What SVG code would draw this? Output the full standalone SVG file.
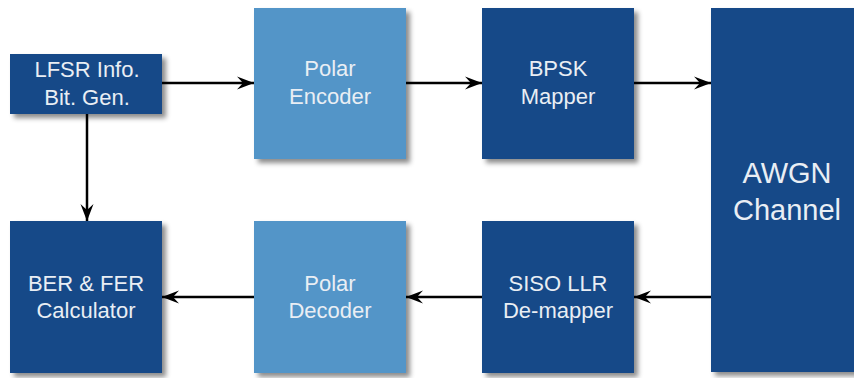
<svg xmlns="http://www.w3.org/2000/svg" width="854" height="378" viewBox="0 0 854 378">
<defs>
<filter id="sh" x="-20%" y="-20%" width="150%" height="150%">
<feDropShadow dx="4" dy="4" stdDeviation="2.5" flood-color="#000" flood-opacity="0.45"/>
</filter>
<marker id="ah" markerUnits="userSpaceOnUse" markerWidth="18" markerHeight="16" refX="17" refY="8" orient="auto">
<path d="M0,1.5 L17,8 L0,14.5 L6,8 Z" fill="#000"/>
</marker>
<style>
.dk{fill:#184a88;filter:url(#sh)}
.lt{fill:#5395c8;filter:url(#sh)}
.t{font-family:"Liberation Sans",Arial,sans-serif;font-size:22px;fill:#e9eef4;text-anchor:middle}
.tb{font-size:29px}
.c{stroke:#000;stroke-width:2.5;fill:none;marker-end:url(#ah)}
</style>
</defs>
<rect width="854" height="378" fill="#fff"/>
<g id="connectors">
<line class="c" x1="162" y1="83" x2="254" y2="83"/>
<line class="c" x1="406" y1="83" x2="482" y2="83"/>
<line class="c" x1="634" y1="83" x2="711" y2="83"/>
<line class="c" x1="87" y1="114" x2="87" y2="221"/>
<line class="c" x1="711" y1="297" x2="634" y2="297"/>
<line class="c" x1="482" y1="297" x2="406" y2="297"/>
<line class="c" x1="254" y1="297" x2="162" y2="297"/>
</g>
<g id="lfsr">
<rect class="dk" x="10" y="54" width="152" height="60"/>
<text class="t" x="87" y="77">LFSR Info.</text>
<text class="t" x="87" y="105">Bit. Gen.</text>
</g>
<g id="polar-encoder">
<rect class="lt" x="254" y="8" width="152" height="151"/>
<text class="t" x="330" y="76">Polar</text>
<text class="t" x="330" y="104">Encoder</text>
</g>
<g id="bpsk">
<rect class="dk" x="482" y="8" width="152" height="151"/>
<text class="t" x="558" y="76">BPSK</text>
<text class="t" x="558" y="104">Mapper</text>
</g>
<g id="awgn">
<rect class="dk" x="711" y="8" width="152" height="364"/>
<text class="t tb" x="787" y="183">AWGN</text>
<text class="t tb" x="787" y="220">Channel</text>
</g>
<g id="siso">
<rect class="dk" x="482" y="221" width="152" height="152"/>
<text class="t" x="558" y="291">SISO LLR</text>
<text class="t" x="558" y="318">De-mapper</text>
</g>
<g id="polar-decoder">
<rect class="lt" x="254" y="221" width="152" height="152"/>
<text class="t" x="330" y="291">Polar</text>
<text class="t" x="330" y="318">Decoder</text>
</g>
<g id="ber">
<rect class="dk" x="10" y="221" width="152" height="152"/>
<text class="t" x="86" y="291">BER &amp; FER</text>
<text class="t" x="86" y="318">Calculator</text>
</g>
</svg>
